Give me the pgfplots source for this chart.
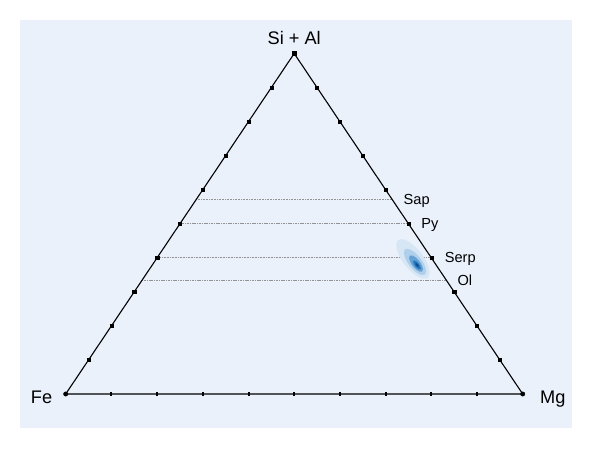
\documentclass[border=0pt]{standalone}
\usepackage{fontspec}
\setmainfont{Liberation Sans}
\usepackage{pgfplots}
\pgfplotsset{compat=1.18}
\definecolor{bgblue}{RGB}{234,241,250}
\definecolor{cA}{RGB}{214,230,245}
\definecolor{cB}{RGB}{175,207,235}
\definecolor{cC}{RGB}{100,162,214}
\definecolor{cD}{RGB}{40,118,188}
\definecolor{cE}{RGB}{10,75,145}
\begin{document}
\begin{tikzpicture}[x=1pt,y=1pt]
\fill[white] (0,0) rectangle (589,449);
\fill[bgblue] (20,21) rectangle (572,429);
\begin{axis}[at={(65.7pt,55pt)}, anchor=south west, scale only axis,
  width=457pt, height=340.5pt, xmin=0, xmax=1, ymin=0, ymax=1,
  hide axis, clip=false]
% guide lines
\addplot[gray!85, line width=0.6pt, dash pattern=on 0.8pt off 0.8pt] coordinates {(0.2857,0.5714) (0.7143,0.5714)};
\addplot[gray!85, line width=0.6pt, dash pattern=on 1.6pt off 0.8pt] coordinates {(0.25,0.5) (0.75,0.5)};
\addplot[gray!85, line width=0.6pt, dash pattern=on 0.8pt off 0.8pt] coordinates {(0.2,0.4) (0.8,0.4)};
\addplot[gray!85, line width=0.6pt, dash pattern=on 1.6pt off 0.8pt] coordinates {(0.1667,0.3333) (0.8333,0.3333)};
% density blob (pixel coordinates converted to axis units)
\pgfplotsset{blob/.style={draw=none, smooth, x filter/.expression={(x-65.7)/457}, y filter/.expression={(394-y)/340.5}}}
\addplot[blob, fill=cA] coordinates {(427.8,277.9) (429.7,272.3) (427.2,263.1) (420.9,252.8) (412.4,244.2) (404.1,239.5) (398.2,240.1) (396.3,245.7) (398.8,254.9) (405.1,265.2) (413.6,273.8) (421.9,278.5) (427.8,277.9)} -- cycle;
\addplot[blob, fill=cB] coordinates {(424.9,274.6) (426.1,270.9) (424.4,264.8) (420.1,258.0) (414.5,252.2) (409.0,249.1) (405.1,249.4) (403.9,253.1) (405.6,259.2) (409.9,266.0) (415.5,271.8) (421.0,274.9) (424.9,274.6)} -- cycle;
\addplot[blob, fill=cC] coordinates {(422.2,271.4) (422.9,269.1) (421.8,265.3) (419.2,261.0) (415.7,257.4) (412.3,255.5) (409.8,255.6) (409.1,257.9) (410.2,261.7) (412.8,266.0) (416.4,269.6) (419.8,271.6) (422.2,271.4)} -- cycle;
\addplot[blob, fill=cD] coordinates {(420.4,269.3) (420.8,268.1) (420.2,266.0) (418.7,263.6) (416.8,261.7) (414.9,260.6) (413.6,260.7) (413.2,261.9) (413.8,264.0) (415.3,266.4) (417.2,268.3) (419.1,269.4) (420.4,269.3)} -- cycle;
\addplot[blob, fill=cE] coordinates {(418.5,267.0) (418.5,265.5) (416.9,263.5) (415.5,263.0) (415.5,264.5) (417.1,266.5) (418.5,267.0)} -- cycle;
% triangle
\addplot[black, line width=1.1pt, line join=miter] coordinates {(0,0) (1,0) (0.5,1) (0,0)} -- cycle;
% ticks on the sides
\addplot[only marks, mark=square*, mark size=1.6pt, black] coordinates {
 (0.05,0.1) (0.1,0.2) (0.15,0.3) (0.2,0.4) (0.25,0.5) (0.3,0.6) (0.35,0.7) (0.4,0.8) (0.45,0.9)
 (0.95,0.1) (0.9,0.2) (0.85,0.3) (0.8,0.4) (0.75,0.5) (0.7,0.6) (0.65,0.7) (0.6,0.8) (0.55,0.9)};
\addplot[only marks, mark=|, mark size=2.2pt, black, mark options={line width=2pt}] coordinates {
 (0.1,0) (0.2,0) (0.3,0) (0.4,0) (0.5,0) (0.6,0) (0.7,0) (0.8,0) (0.9,0)};
\addplot[only marks, mark=*, mark size=2.2pt, black] coordinates {(0,0) (1,0)};
\addplot[only marks, mark=square*, mark size=2pt, black] coordinates {(0.5,1)};
% labels
\node[anchor=base, yshift=8.5pt, font=\fontsize{18.2}{20}\selectfont] at (axis cs:0.5,1) {Si + Al};
\node[anchor=base east, xshift=-10pt, yshift=-10pt, font=\fontsize{18.2}{20}\selectfont] at (axis cs:0,0) {Fe};
\node[anchor=base west, xshift=14pt, yshift=-9.7pt, font=\fontsize{18.2}{20}\selectfont] at (axis cs:1,0) {Mg};
\node[anchor=base west, xshift=8pt, yshift=-5.2pt, font=\fontsize{14.6}{16}\selectfont] at (axis cs:0.7143,0.5714) {Sap};
\node[anchor=base west, xshift=9.5pt, yshift=-5.2pt, font=\fontsize{14.6}{16}\selectfont] at (axis cs:0.75,0.5) {Py};
\node[anchor=base west, xshift=10pt, yshift=-5.2pt, font=\fontsize{14.6}{16}\selectfont] at (axis cs:0.8,0.4) {Serp};
\node[anchor=base west, xshift=7.5pt, yshift=-5.2pt, font=\fontsize{14.6}{16}\selectfont] at (axis cs:0.8333,0.3333) {Ol};
\end{axis}
\end{tikzpicture}
\end{document}
